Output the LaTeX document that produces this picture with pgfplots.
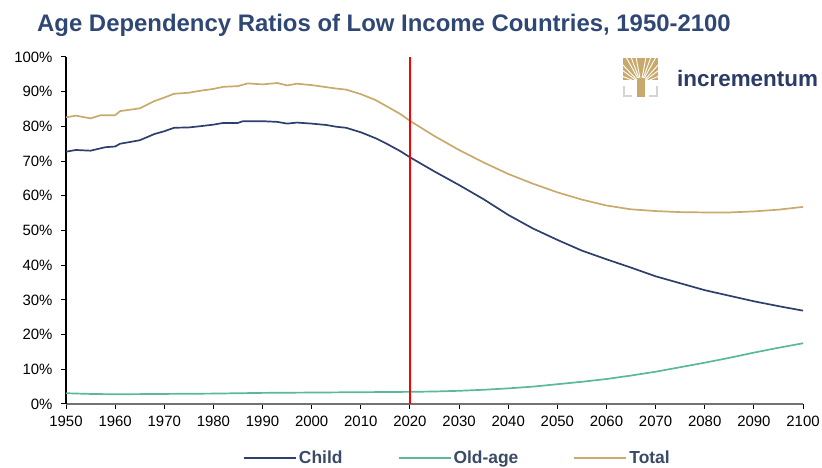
\documentclass[border=0pt]{standalone}
\usepackage{fontspec}
\setmainfont{Liberation Sans}
\usepackage{pgfplots}
\pgfplotsset{compat=1.18}
\definecolor{childc}{HTML}{2E3F6E}
\definecolor{oldc}{HTML}{5BB89A}
\definecolor{totalc}{HTML}{C8AA6C}
\definecolor{titlec}{HTML}{2F4775}
\definecolor{legc}{HTML}{3B4A66}
\definecolor{logoc}{HTML}{2B3A67}
\definecolor{goldc}{HTML}{C9A96B}
\definecolor{bracketc}{HTML}{D4D4D4}
\pgfplotstableread{
year val
1950 72.7
1952 73.2
1955 73.0
1958 74.0
1960 74.2
1961 75.0
1965 76.0
1968 77.8
1970 78.6
1972 79.6
1975 79.7
1977 80.0
1980 80.5
1982 81.0
1985 81.0
1986 81.5
1990 81.5
1993 81.3
1995 80.8
1997 81.1
2000 80.8
2003 80.4
2005 79.9
2007 79.6
2010 78.3
2013 76.6
2015 75.2
2018 72.9
2020 71.1
2025 67.0
2030 63.1
2035 59.0
2040 54.5
2045 50.6
2050 47.3
2055 44.2
2060 41.7
2065 39.3
2070 36.8
2075 34.8
2080 32.8
2085 31.2
2090 29.6
2095 28.2
2100 26.9
}\childdata
\pgfplotstableread{
year val
1950 3.1
1955 2.9
1960 2.8
1970 2.9
1980 3.0
1990 3.2
2000 3.3
2010 3.4
2020 3.5
2025 3.6
2030 3.8
2035 4.1
2040 4.5
2045 5.0
2050 5.7
2055 6.4
2060 7.2
2065 8.2
2070 9.3
2075 10.6
2080 11.9
2085 13.3
2090 14.8
2095 16.2
2100 17.5
}\olddata
\pgfplotstableread{
year val
1950 82.6
1952 83.1
1955 82.3
1957 83.2
1960 83.2
1961 84.4
1965 85.2
1968 87.3
1970 88.3
1972 89.4
1975 89.7
1977 90.2
1980 90.8
1982 91.4
1985 91.6
1987 92.4
1990 92.1
1993 92.5
1995 91.8
1997 92.3
2000 91.9
2003 91.3
2005 90.9
2007 90.6
2010 89.3
2013 87.6
2015 86.0
2018 83.6
2020 81.6
2025 77.2
2030 73.2
2035 69.6
2040 66.3
2045 63.5
2050 61.0
2055 58.9
2060 57.2
2065 56.1
2070 55.6
2075 55.3
2080 55.2
2085 55.2
2090 55.5
2095 56.0
2100 56.8
}\totaldata
\begin{document}
\begin{tikzpicture}[x=1bp,y=1bp]
\useasboundingbox (0,0) rectangle (822,468);
\node[anchor=base west, inner sep=0, text=titlec, font=\fontsize{24}{28}\selectfont\bfseries] at (37,436.3) {Age Dependency Ratios of Low Income Countries, 1950-2100};
% logo
\fill[goldc] (623,388) rectangle (658,410);
\foreach \xx in {626,631,636,646,651,656} {\draw[white, line width=0.9bp] (641,384) -- (\xx,411);}
\foreach \yy in {392,398,404} {\draw[white, line width=0.9bp] (641,384) -- (622,\yy); \draw[white, line width=0.9bp] (641,384) -- (659,\yy);}
\fill[goldc] (637,371) rectangle (645,390);
\draw[bracketc, line width=2bp] (624,382) -- (624,372) -- (632,372);
\draw[bracketc, line width=2bp] (657,382) -- (657,372) -- (649,372);
\node[anchor=base west, inner sep=0, text=logoc, font=\fontsize{22.5}{26}\selectfont\bfseries] at (677,381.5) {incrementum};
\begin{axis}[
  at={(66bp,64bp)}, anchor=south west,
  scale only axis, width=737bp, height=347bp,
  xmin=1950, xmax=2100, ymin=0, ymax=100,
  axis x line*=bottom, axis y line*=left,
  x axis line style={-, draw=black!55, line width=1.6bp},
  y axis line style={-, draw=black, line width=1.6bp},
  xtick={1950,1960,...,2100}, ytick={0,10,...,100},
  tick align=outside, major tick length=5bp,
  every tick/.style={black, line width=1bp},
  tick label style={font=\fontsize{15}{17}\selectfont, text=black},
  xticklabel style={yshift=-4bp},
  yticklabel style={xshift=-5bp},
  /pgf/number format/assume math mode=true,
  /pgf/number format/1000 sep={},
  yticklabel={\pgfmathprintnumber{\tick}\%},
  legend columns=3,
  legend image code/.code={\draw[#1, line width=2bp] (0bp,0bp) -- (52bp,0bp);},
  legend style={draw=none, fill=none, at={(0.531,-0.155)}, anchor=center,
    font=\fontsize{17.5}{20}\selectfont\bfseries, text=legc,
    /tikz/every even column/.append style={column sep=53bp}},
]
\addplot[childc, line width=1.7bp] table[x=year, y=val] {\childdata};
\addlegendentry{Child}
\addplot[oldc, line width=1.7bp] table[x=year, y=val] {\olddata};
\addlegendentry{Old-age}
\addplot[totalc, line width=1.7bp] table[x=year, y=val] {\totaldata};
\addlegendentry{Total}
\addplot[color=red, line width=2bp, forget plot] coordinates {(2020,0) (2020,100)};
\end{axis}
\end{tikzpicture}
\end{document}
